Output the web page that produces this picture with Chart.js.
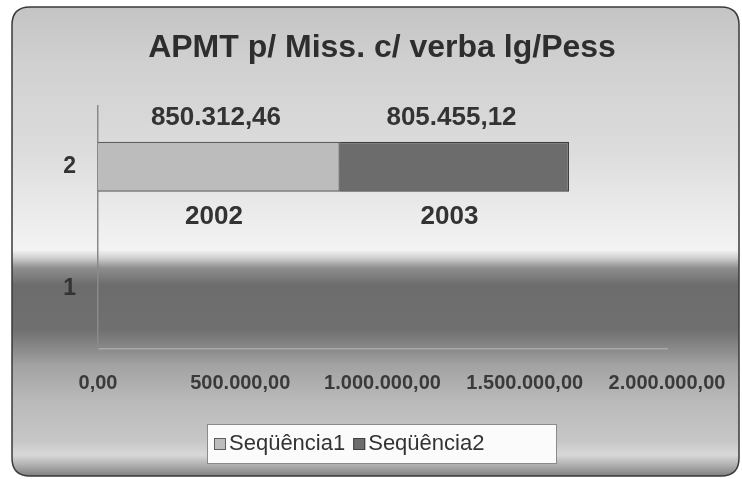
<!DOCTYPE html>
<html><head><meta charset="utf-8">
<script src="https://cdn.jsdelivr.net/npm/chart.js@4.4.1/dist/chart.umd.min.js"></script>
<style>html,body{margin:0;padding:0;background:#fff}#wrap{width:742px;height:479px;position:relative}</style>
</head><body><div id="wrap"><canvas id="c" width="742" height="479"></canvas></div>
<script>
const chartTitle = 'APMT p/ Miss. c/ verba lg/Pess';
const categories = ['1', '2'];
const seriesNames = ['Seqüência1', 'Seqüência2'];
const seq1 = [null, 850312.46];
const seq2 = [null, 805455.12];
const seriesYears = ['2002', '2003'];
const xMin = 0, xMax = 2000000, xStep = 500000;

const FONT = '"Liberation Sans", Arial, sans-serif';
function fmtBR(v) {
  const parts = Math.abs(v).toFixed(2).split('.');
  return (v < 0 ? '-' : '') + parts[0].replace(/\B(?=(\d{3})+(?!\d))/g, '.') + ',' + parts[1];
}

const FR = {x: 12, y: 7, w: 727, h: 469, r: 18};
function rr(ctx, x, y, w, h, r) {
  ctx.beginPath();
  ctx.moveTo(x + r, y); ctx.lineTo(x + w - r, y); ctx.quadraticCurveTo(x + w, y, x + w, y + r);
  ctx.lineTo(x + w, y + h - r); ctx.quadraticCurveTo(x + w, y + h, x + w - r, y + h);
  ctx.lineTo(x + r, y + h); ctx.quadraticCurveTo(x, y + h, x, y + h - r);
  ctx.lineTo(x, y + r); ctx.quadraticCurveTo(x, y, x + r, y); ctx.closePath();
}

const bgPlugin = {
  id: 'bg',
  beforeDraw(chart) {
    const ctx = chart.ctx;
    ctx.save();
    ctx.fillStyle = '#ffffff';
    ctx.fillRect(0, 0, chart.width, chart.height);
    const g = ctx.createLinearGradient(0, FR.y, 0, FR.y + FR.h);
    const stops = [[7,'#c4c4c4'],[60,'#d0d0d0'],[150,'#dcdcdc'],[225,'#eeeeee'],[250,'#f3f3f3'],[258,'#cfcfcf'],[268,'#8e8e8e'],[285,'#6c6c6c'],[330,'#707070'],[352,'#8e8e8e'],[365,'#a2a2a2'],[400,'#b9b9b9'],[440,'#c6c6c6'],[455,'#d8d8d8'],[465,'#b0b0b0'],[476,'#808080']];
    stops.forEach(([y, c]) => g.addColorStop(Math.min(1, Math.max(0, (y - FR.y) / FR.h)), c));
    rr(ctx, FR.x, FR.y, FR.w, FR.h, FR.r);
    ctx.fillStyle = g; ctx.fill();
    ctx.lineWidth = 1.5; ctx.strokeStyle = '#3a3a3a'; ctx.stroke();
    // title
    ctx.fillStyle = '#2e2e2e';
    ctx.font = 'bold 32px ' + FONT;
    ctx.textAlign = 'center'; ctx.textBaseline = 'middle';
    ctx.fillText(chartTitle, 382, 48);
    ctx.restore();
  }
};

const labelPlugin = {
  id: 'seglabels',
  afterDatasetsDraw(chart) {
    const ctx = chart.ctx;
    ctx.save();
    ctx.font = 'bold 26px ' + FONT;
    ctx.fillStyle = '#333333';
    ctx.textAlign = 'center'; ctx.textBaseline = 'middle';
    chart.data.datasets.forEach((ds, i) => {
      const meta = chart.getDatasetMeta(i);
      meta.data.forEach((bar, j) => {
        const v = ds.data[j];
        if (v === null || v === undefined) return;
        const cx = (bar.x + bar.base) / 2;
        const h = bar.height;
        ctx.fillText(fmtBR(v), cx - 3, bar.y - h / 2 - 24);
        ctx.fillText(seriesYears[i], cx - 5, bar.y + h / 2 + 25);
      });
    });
    ctx.restore();
  }
};

const legendPlugin = {
  id: 'boxlegend',
  afterDraw(chart) {
    const ctx = chart.ctx;
    ctx.save();
    const bx = 207, by = 424, bw = 349, bh = 39;
    ctx.fillStyle = '#fbfbfb';
    ctx.fillRect(bx, by, bw, bh);
    ctx.strokeStyle = '#8a8a8a'; ctx.lineWidth = 1;
    ctx.strokeRect(bx + 0.5, by + 0.5, bw, bh);
    ctx.font = '22px ' + FONT;
    ctx.textBaseline = 'middle'; ctx.textAlign = 'left';
    let x = bx + 7;
    const cy = by + 19;
    chart.data.datasets.forEach((ds) => {
      ctx.fillStyle = ds.backgroundColor;
      ctx.fillRect(x, cy - 5, 12, 12);
      ctx.strokeStyle = ds.borderColor; ctx.lineWidth = 1;
      ctx.strokeRect(x + 0.5, cy - 4.5, 11, 11);
      ctx.fillStyle = '#333333';
      ctx.fillText(ds.label, x + 15, cy + 1);
      x += 15 + ctx.measureText(ds.label).width + 8;
    });
    ctx.restore();
  }
};

const axisFontX = {family: FONT, weight: 'bold', size: 20};
const axisFontY = {family: FONT, weight: 'bold', size: 23};

new Chart(document.getElementById('c').getContext('2d'), {
  type: 'bar',
  data: {
    labels: categories,
    datasets: [
      {label: seriesNames[0], data: seq1, backgroundColor: '#bcbcbc', borderColor: '#5e5e5e', borderWidth: 1.5, barPercentage: 0.41, categoryPercentage: 1},
      {label: seriesNames[1], data: seq2, backgroundColor: '#6c6c6c', borderColor: '#404040', borderWidth: 1.5, barPercentage: 0.41, categoryPercentage: 1}
    ]
  },
  options: {
    indexAxis: 'y',
    responsive: false,
    animation: false,
    devicePixelRatio: 1,
    layout: {padding: {left: 20, right: 75, top: 106, bottom: 0}},
    plugins: {legend: {display: false}, title: {display: false}, tooltip: {enabled: false}},
    scales: {
      x: {
        stacked: true, min: xMin, max: xMax,
        ticks: {stepSize: xStep, callback: (v) => fmtBR(v), font: axisFontX, color: '#3a3a3a', padding: 22, maxRotation: 0, autoSkip: false},
        grid: {display: false, drawTicks: false, tickLength: 0},
        border: {display: true, color: '#a8a8a8', width: 1.5},
        afterFit: (s) => { s.height = 130; s.paddingLeft = 0; s.paddingRight = 0; }
      },
      y: {
        stacked: true, reverse: true,
        ticks: {font: axisFontY, color: '#333333', padding: 22},
        grid: {display: false, drawTicks: false, tickLength: 0},
        border: {display: true, color: '#8a8a8a', width: 1.5},
        afterFit: (s) => { s.width = 78; }
      }
    }
  },
  plugins: [bgPlugin, labelPlugin, legendPlugin]
});
</script>
</body></html>
